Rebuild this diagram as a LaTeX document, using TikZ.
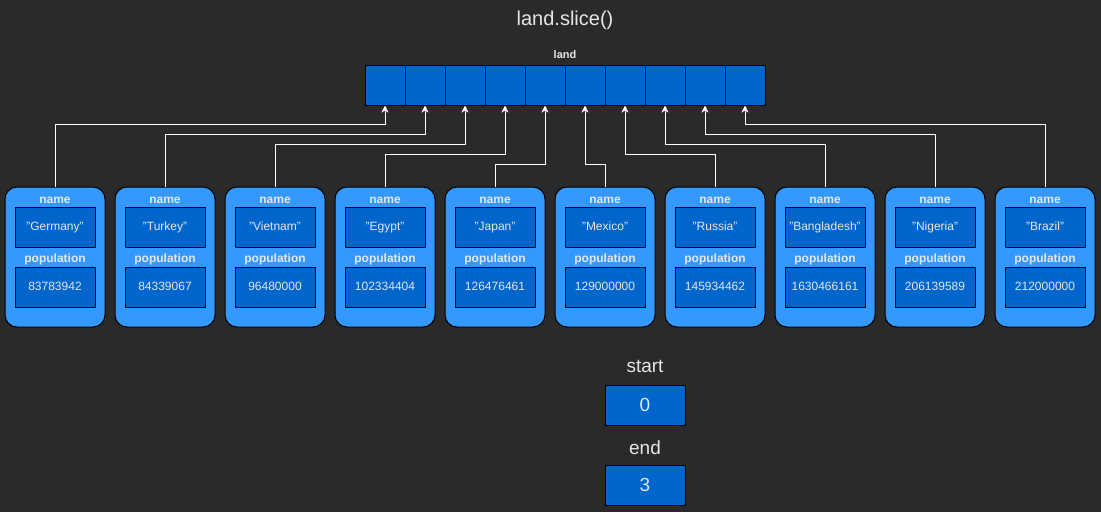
\documentclass[tikz,border=0pt]{standalone}
\usepackage{fontspec}
\setmainfont{Liberation Sans}
\usetikzlibrary{arrows.meta}
\definecolor{bgcol}{HTML}{2A2A2A}
\definecolor{cellblue}{HTML}{0066CC}
\definecolor{objblue}{HTML}{3399FF}
\definecolor{txtcol}{HTML}{E6E6E6}
\tikzset{cell/.style={draw=black,fill=cellblue,minimum width=40pt,
  minimum height=40pt,inner sep=0pt,line width=1pt},
  objbox/.style={draw=black,fill=objblue,rounded corners=12pt,
  minimum width=100pt,minimum height=140pt,line width=1pt},
  valbox/.style={draw=black,fill=cellblue,minimum width=80pt,minimum height=40pt,
  inner sep=0pt,line width=1pt,text=txtcol,font=\fontsize{12}{14}\selectfont,
  text height=8.6pt,text depth=2.4pt},
  fieldlbl/.style={text=txtcol,font=\bfseries\fontsize{12}{14}\selectfont,inner sep=0pt},
  biglbl/.style={text=txtcol,font=\fontsize{19}{22}\selectfont,inner sep=0pt},
  bigbox/.style={valbox,font=\fontsize{19}{22}\selectfont,text height=13.6pt,text depth=0pt},
  link/.style={draw=white,line width=1pt,-{Stealth[length=7pt,width=7pt,inset=2pt]}}}

\begin{document}
\begin{tikzpicture}[x=1pt,y=-1pt]
\fill[bgcol] (0,0) rectangle (1101,512);
\useasboundingbox (0,0) rectangle (1101,512);
\node[biglbl,font=\fontsize{20}{24}\selectfont] (title) at (565,20) {land.slice()};
\node[fieldlbl,font=\bfseries\fontsize{11}{13}\selectfont] (landlbl) at (565,55) {land};
% the array
\foreach \i in {0,...,9}
  \node[cell] (cell\i) at ({385+40*\i},85) {};
% the objects
\foreach \i/\cname/\pop in {0/Germany/83783942,1/Turkey/84339067,2/Vietnam/96480000,
  3/Egypt/102334404,4/Japan/126476461,5/Mexico/129000000,6/Russia/145934462,
  7/Bangladesh/1630466161,8/Nigeria/206139589,9/Brazil/212000000}{
  \pgfmathsetmacro{\cx}{55+110*\i}
  \pgfmathsetmacro{\rise}{62-10*min(\i,9-\i)}
  \node[objbox] (obj\i) at (\cx,257) {};
  \node[fieldlbl] (nmlbl\i) at (\cx,200) {name};
  \node[valbox] (nm\i) at (\cx,227) {"\cname"};
  \node[fieldlbl] (poplbl\i) at (\cx,259) {population};
  \node[valbox] (pop\i) at (\cx,287) {\pop};
  \draw[link] (obj\i.north) -- ++(0,-\rise) -| (cell\i.south);
}
% start and end
\node[biglbl] (startlbl) at (645,366) {start};
\node[bigbox] (start) at (645,405) {0};
\node[biglbl] (endlbl) at (645,448) {end};
\node[bigbox] (end) at (645,485) {3};
\end{tikzpicture}
\end{document}
